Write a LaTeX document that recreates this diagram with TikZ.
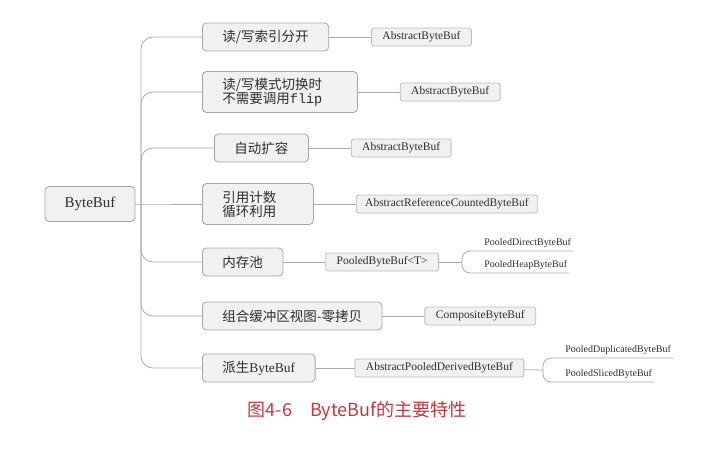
\documentclass[tikz,border=0pt]{standalone}
\usepackage{fontspec}
\setmainfont{Liberation Serif}
\newfontfamily\cjk{Noto Sans CJK SC}
\newfontfamily\flipfont{Liberation Mono}
\usetikzlibrary{positioning}
\definecolor{linegray}{RGB}{170,170,170}
\definecolor{boxgray}{RGB}{165,165,165}
\definecolor{boxfill}{RGB}{241,241,241}
\definecolor{txtgray}{RGB}{45,45,45}
\definecolor{capred}{RGB}{195,55,60}

\begin{document}
\begin{tikzpicture}[x=1pt,y=-1pt,node distance=42pt,line width=0.8pt,
		base node/.style={rectangle,rounded corners=4pt,draw=boxgray,fill=boxfill,text=txtgray,
			minimum height=28pt,inner xsep=20pt,anchor=west,font=\cjk\fontsize{13.5}{14}\selectfont},
		impl node/.style={rectangle,rounded corners=2.5pt,draw=boxgray!75,fill=boxfill,text=txtgray,
			minimum height=18pt,inner xsep=11pt,font=\fontsize{11.5}{13}\selectfont},
		leaf node/.style={inner xsep=2pt,inner ysep=3pt,anchor=south west,text=txtgray,
			font=\fontsize{10}{12}\selectfont},
		link/.style={draw=linegray},
		branch/.style={link,rounded corners=12pt}]

		\useasboundingbox (0,0) rectangle (710,450);

		\node[base node,anchor=center,minimum height=35pt,minimum width=90pt,inner xsep=0pt,
			font=\fontsize{15}{17}\selectfont] (bb) at (90,204) {ByteBuf};
		\coordinate (hub) at (141,204);

		% features
		\node[base node] (rw) at (202,37) {读/写索引分开};
		\node[base node,minimum height=41pt,text width=115pt,align=left] (flip) at (202,92)
			{读/写模式切换时\\不需要调用{\flipfont flip}};
		\node[base node] (grow) at (214,148) {自动扩容};
		\node[base node,minimum height=41pt,text width=71pt,align=left] (rc) at (202,204)
			{引用计数\\循环利用};
		\node[base node] (pool) at (202,262) {内存池};
		\node[base node] (comp) at (202,316) {组合缓冲区视图-零拷贝};
		\node[base node] (derive) at (202,368) {派生{\rmfamily ByteBuf}};

		% implementations
		\node[impl node,right=of rw] (rwi) {AbstractByteBuf};
		\node[impl node,right=of flip] (flipi) {AbstractByteBuf};
		\node[impl node,right=of grow] (growi) {AbstractByteBuf};
		\node[impl node,right=of rc,inner xsep=9pt] (rci) {AbstractReferenceCountedByteBuf};
		\node[impl node,right=of pool] (pooli) {PooledByteBuf<T>};
		\node[impl node,right=of comp] (compi) {CompositeByteBuf};
		\node[impl node,right=39pt of derive] (derivei) {AbstractPooledDerivedByteBuf};

		\coordinate (poolfork) at (462,262);
		\node[leaf node] (direct) at (482,251) {PooledDirectByteBuf};
		\node[leaf node] (heap) at (482,273) {PooledHeapByteBuf};
		\coordinate (derivefork) at (543,370);
		\node[leaf node] (dup) at (563,358) {PooledDuplicatedByteBuf};
		\node[leaf node] (slice) at (563,382) {PooledSlicedByteBuf};

		\draw[link] (bb) -- (hub) -- (rc);
		\foreach \f in {rw,flip,grow,pool,comp,derive}
			\draw[branch] (hub) |- (\f.west);
		\foreach \f in {rw,flip,grow,rc,pool,comp,derive}
			\draw[link] (\f) -- (\f i);

		\draw[link] (pooli) -- (poolfork);
		\draw[link,rounded corners=8pt] (poolfork) |- (direct.south east);
		\draw[link,rounded corners=8pt] (poolfork) |- (heap.south east);
		\draw[link] (derivei) -- (derivefork);
		\draw[link,rounded corners=8pt] (derivefork) |- (dup.south east);
		\draw[link,rounded corners=8pt] (derivefork) |- (slice.south east);

		\node[text=capred,font=\cjk\fontsize{18}{20}\selectfont] (cap) at (357,411)
			{图4-6　ByteBuf的主要特性};
\end{tikzpicture}
\end{document}
